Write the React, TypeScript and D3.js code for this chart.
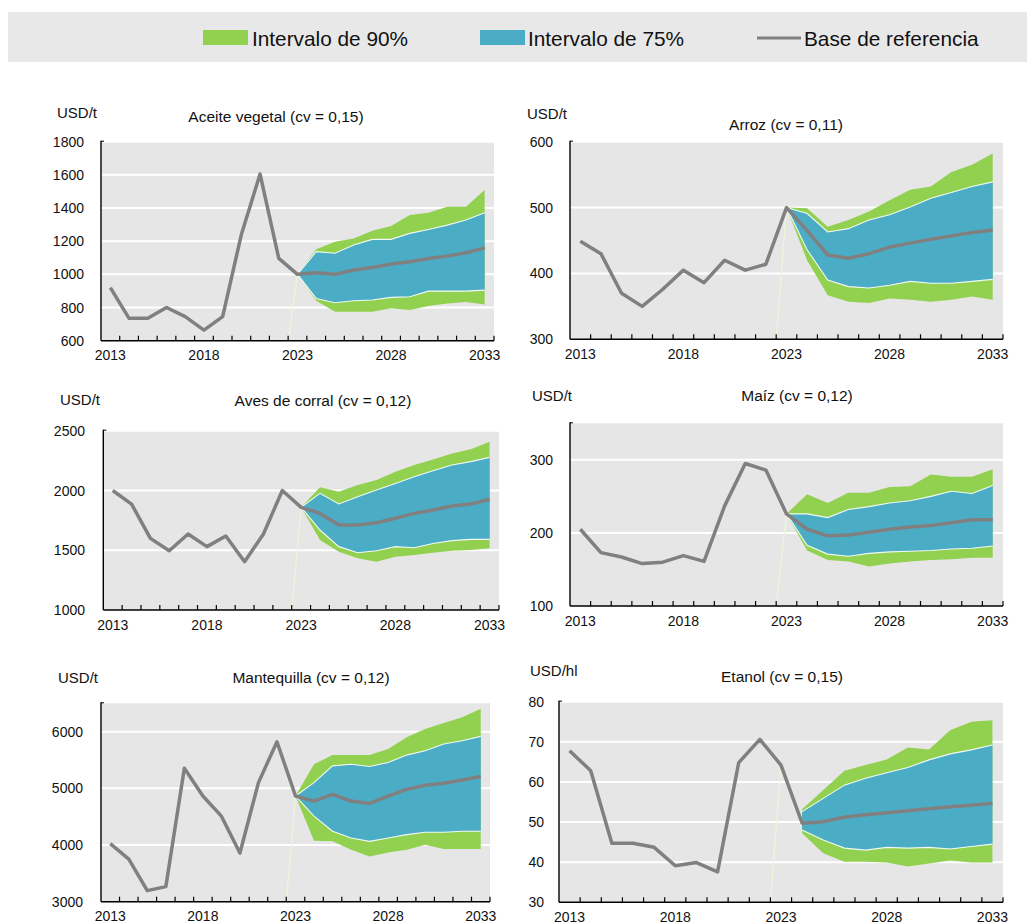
import React from 'react';
import * as d3 from 'd3';

// años del eje x (categorías)
const YEARS = [
  2013, 2014, 2015, 2016, 2017, 2018, 2019, 2020, 2021, 2022, 2023,
  2024, 2025, 2026, 2027, 2028, 2029, 2030, 2031, 2032, 2033,
];
const X_LABELS = [2013, 2018, 2023, 2028, 2033];

const LEGEND_LABELS = ['Intervalo de 90%', 'Intervalo de 75%', 'Base de referencia'];

// Aceite vegetal
const aceiteBase = [920, 735, 735, 800, 745, 664, 745, 1240, 1605, 1096, 1000, 1010, 1000, 1026, 1042, 1062, 1076, 1096, 1110, 1130, 1160];
const aceiteHi90 = [1000, 1151, 1197, 1217, 1263, 1291, 1358, 1372, 1408, 1408, 1508];
const aceiteHi75 = [1000, 1137, 1127, 1177, 1211, 1211, 1247, 1271, 1297, 1328, 1372];
const aceiteLo75 = [1000, 855, 829, 841, 845, 861, 865, 899, 899, 899, 905];
const aceiteLo90 = [1000, 841, 775, 775, 775, 795, 785, 809, 825, 833, 819];

// Arroz
const arrozBase = [449, 430, 370, 350, 376, 405, 386, 420, 405, 414, 500, 465, 428, 423, 430, 440, 446, 452, 457, 462, 466];
const arrozHi90 = [500, 499, 471, 481, 494, 511, 527, 532, 554, 565, 582];
const arrozHi75 = [500, 491, 463, 468, 481, 489, 501, 514, 523, 532, 539];
const arrozLo75 = [500, 436, 390, 380, 378, 382, 388, 385, 385, 388, 391];
const arrozLo90 = [500, 420, 367, 357, 355, 362, 360, 357, 360, 365, 360];

// Aves de corral
const avesBase = [2000, 1886, 1599, 1496, 1636, 1530, 1619, 1404, 1636, 2000, 1859, 1808, 1711, 1711, 1730, 1767, 1808, 1836, 1870, 1886, 1926];
const avesHi90 = [1859, 2026, 1990, 2045, 2087, 2157, 2213, 2260, 2310, 2344, 2408];
const avesHi75 = [1859, 1976, 1887, 1948, 2004, 2059, 2115, 2165, 2213, 2241, 2277];
const avesLo75 = [1859, 1669, 1530, 1479, 1496, 1530, 1521, 1557, 1580, 1591, 1591];
const avesLo90 = [1859, 1585, 1488, 1432, 1404, 1446, 1460, 1479, 1496, 1502, 1516];

// Maíz
const maizBase = [205, 173, 167, 158, 160, 169, 161, 237, 295, 286, 226, 205, 196, 197, 201, 205, 208, 210, 214, 218, 218];
const maizHi90 = [226, 253, 241, 255, 255, 263, 264, 280, 277, 277, 287];
const maizHi75 = [226, 226, 221, 232, 236, 241, 244, 250, 257, 254, 265];
const maizLo75 = [226, 183, 171, 168, 172, 174, 175, 176, 178, 179, 182];
const maizLo90 = [226, 176, 163, 161, 154, 158, 161, 163, 164, 166, 166];

// Mantequilla
const mantBase = [4024, 3751, 3195, 3266, 5355, 4864, 4509, 3858, 5101, 5822, 4864, 4775, 4893, 4775, 4734, 4864, 4982, 5053, 5089, 5148, 5207];
const mantHi90 = [4864, 5426, 5586, 5586, 5586, 5692, 5899, 6047, 6154, 6254, 6402];
const mantHi75 = [4864, 5101, 5396, 5426, 5385, 5456, 5586, 5663, 5781, 5840, 5917];
const mantLo75 = [4864, 4509, 4243, 4124, 4065, 4124, 4183, 4225, 4225, 4243, 4243];
const mantLo90 = [4864, 4077, 4065, 3917, 3799, 3870, 3917, 4006, 3929, 3929, 3929];

// Etanol (bandas desde 2024)
const etanolBase = [67.8, 62.8, 44.7, 44.7, 43.7, 39.1, 39.9, 37.6, 64.8, 70.6, 64.2, 49.7, 50.1, 51.2, 51.8, 52.3, 52.8, 53.3, 53.8, 54.2, 54.7];
const etanolHi90 = [53.2, 58.0, 62.8, 64.2, 65.6, 68.6, 68.1, 72.9, 75.0, 75.4];
const etanolHi75 = [52.6, 55.9, 59.2, 60.9, 62.3, 63.6, 65.5, 67.0, 68.0, 69.2];
const etanolLo75 = [48.0, 45.5, 43.5, 43.0, 43.7, 43.5, 43.7, 43.3, 43.9, 44.5];
const etanolLo90 = [47.2, 42.2, 40.1, 40.1, 39.9, 38.9, 39.7, 40.4, 39.9, 39.9];

const GREEN = '#92d050';
const BLUE = '#4bacc6';
const GREY = '#808080';
const BG = '#e6e6e6';
const FONT = '"Liberation Sans", Arial, sans-serif';
const TEXT = '#111';

interface Panel {
  title: string;
  unit: string;
  yDomain: [number, number];
  yTicks: number[];
  base: number[];
  hi90: number[];
  hi75: number[];
  lo75: number[];
  lo90: number[];
  bandStart: number;
  box: { left: number; right: number; top: number; bottom: number };
  titleX: number;
  titleY: number;
  unitX: number;
  unitY: number;
  labelRight: number;
}

const panels: Panel[] = [
  {
    title: 'Aceite vegetal (cv = 0,15)', unit: 'USD/t',
    yDomain: [600, 1800], yTicks: [600, 800, 1000, 1200, 1400, 1600, 1800],
    base: aceiteBase, hi90: aceiteHi90, hi75: aceiteHi75, lo75: aceiteLo75, lo90: aceiteLo90, bandStart: 2023,
    box: { left: 101, right: 494, top: 141.7, bottom: 340.7 },
    titleX: 276, titleY: 121.5, unitX: 57, unitY: 118, labelRight: 84,
  },
  {
    title: 'Arroz (cv = 0,11)', unit: 'USD/t',
    yDomain: [300, 600], yTicks: [300, 400, 500, 600],
    base: arrozBase, hi90: arrozHi90, hi75: arrozHi75, lo75: arrozLo75, lo90: arrozLo90, bandStart: 2023,
    box: { left: 570, right: 1003, top: 141.7, bottom: 339.3 },
    titleX: 786, titleY: 129.5, unitX: 527, unitY: 119, labelRight: 553,
  },
  {
    title: 'Aves de corral (cv = 0,12)', unit: 'USD/t',
    yDomain: [1000, 2500], yTicks: [1000, 1500, 2000, 2500],
    base: avesBase, hi90: avesHi90, hi75: avesHi75, lo75: avesLo75, lo90: avesLo90, bandStart: 2023,
    box: { left: 103.3, right: 499, top: 430.7, bottom: 610 },
    titleX: 323, titleY: 405.5, unitX: 60, unitY: 405, labelRight: 85,
  },
  {
    title: 'Maíz (cv = 0,12)', unit: 'USD/t',
    yDomain: [100, 350], yTicks: [100, 200, 300],
    base: maizBase, hi90: maizHi90, hi75: maizHi75, lo75: maizLo75, lo90: maizLo90, bandStart: 2023,
    box: { left: 570, right: 1003, top: 423.3, bottom: 606 },
    titleX: 797, titleY: 400.5, unitX: 532, unitY: 401, labelRight: 553,
  },
  {
    title: 'Mantequilla (cv = 0,12)', unit: 'USD/t',
    yDomain: [3000, 6500], yTicks: [3000, 4000, 5000, 6000],
    base: mantBase, hi90: mantHi90, hi75: mantHi75, lo75: mantLo75, lo90: mantLo90, bandStart: 2023,
    box: { left: 101, right: 490, top: 703.3, bottom: 901.7 },
    titleX: 311, titleY: 683, unitX: 58, unitY: 683, labelRight: 83,
  },
  {
    title: 'Etanol (cv = 0,15)', unit: 'USD/hl',
    yDomain: [30, 80], yTicks: [30, 40, 50, 60, 70, 80],
    base: etanolBase, hi90: etanolHi90, hi75: etanolHi75, lo75: etanolLo75, lo90: etanolLo90, bandStart: 2024,
    box: { left: 559, right: 1003, top: 701.7, bottom: 902.3 },
    titleX: 782, titleY: 681.5, unitX: 530, unitY: 676, labelRight: 544,
  },
];

const ChartPanel: React.FC<{ p: Panel }> = ({ p }) => {
  const { left, right, top, bottom } = p.box;
  const x = d3.scaleBand<number>().domain(YEARS).range([left, right]).padding(0);
  const bw = x.bandwidth();
  const cx = (yr: number) => (x(yr) as number) + bw / 2;
  const y = d3.scaleLinear().domain(p.yDomain).range([bottom, top]);

  const startIdx = YEARS.indexOf(p.bandStart);
  const bandRows = p.hi90.map((_, i) => ({
    yr: YEARS[startIdx + i],
    hi90: p.hi90[i], hi75: p.hi75[i], lo75: p.lo75[i], lo90: p.lo90[i],
  }));

  const area90 = d3.area<typeof bandRows[0]>()
    .x((d) => cx(d.yr)).y0((d) => y(d.lo90)).y1((d) => y(d.hi90));
  const area75 = d3.area<typeof bandRows[0]>()
    .x((d) => cx(d.yr)).y0((d) => y(d.lo75)).y1((d) => y(d.hi75));
  const edgeHi = d3.line<typeof bandRows[0]>().x((d) => cx(d.yr)).y((d) => y(d.hi75));
  const edgeLo = d3.line<typeof bandRows[0]>().x((d) => cx(d.yr)).y((d) => y(d.lo75));
  const baseLine = d3.line<number>().x((_, i) => cx(YEARS[i])).y((d) => y(d));

  const i2023 = YEARS.indexOf(2023);

  return (
    <g>
      <rect x={left} y={top} width={right - left} height={bottom - top} fill={BG} />
      {p.yTicks.filter((t) => t !== p.yDomain[0]).map((t) => (
        <line key={t} x1={left} x2={right} y1={y(t)} y2={y(t)} stroke="#fff" strokeWidth={2} />
      ))}
      {/* línea tenue hacia 2023 */}
      <line
        x1={x(2023) as number} y1={bottom}
        x2={cx(2023)} y2={y(p.base[i2023])}
        stroke="#eef6d8" strokeWidth={1.2}
      />
      <path d={area90(bandRows) || ''} fill={GREEN} />
      <path d={area75(bandRows) || ''} fill={BLUE} />
      <path d={edgeHi(bandRows) || ''} fill="none" stroke="#fff" strokeWidth={1.1} strokeOpacity={0.9} />
      <path d={edgeLo(bandRows) || ''} fill="none" stroke="#fff" strokeWidth={1.1} strokeOpacity={0.9} />
      <path d={baseLine(p.base) || ''} fill="none" stroke={GREY} strokeWidth={3.5} strokeLinejoin="round" />

      {/* ejes */}
      <line x1={left} x2={left} y1={top - 1} y2={bottom} stroke="#000" strokeWidth={1.4} />
      <line x1={left} x2={right} y1={bottom} y2={bottom} stroke="#000" strokeWidth={1.4} />
      <line x1={left} x2={left + 3} y1={top - 0.5} y2={top - 0.5} stroke="#000" strokeWidth={1} />
      {YEARS.map((yr) => (
        <line key={yr} x1={(x(yr) as number) + bw} x2={(x(yr) as number) + bw}
          y1={bottom} y2={bottom - 5} stroke="#000" strokeWidth={1.2} />
      ))}
      {X_LABELS.map((yr) => (
        <text key={yr} x={cx(yr)} y={bottom + 19.5} textAnchor="middle"
          fontSize={14} fontFamily={FONT} fill={TEXT}>{yr}</text>
      ))}
      {p.yTicks.map((t) => (
        <text key={t} x={p.labelRight} y={y(t)} dy="0.36em" textAnchor="end"
          fontSize={14} fontFamily={FONT} fill={TEXT}>{t}</text>
      ))}
      <text x={p.titleX} y={p.titleY} textAnchor="middle" fontSize={15.5} fontFamily={FONT} fill={TEXT}>
        {p.title}
      </text>
      <text x={p.unitX} y={p.unitY} fontSize={15} fontFamily={FONT} fill={TEXT}>{p.unit}</text>
    </g>
  );
};

const App: React.FC = () => {
  return (
    <svg width={1027} height={924} style={{ position: 'absolute', left: 0, top: 0, background: '#fff' }}>
      {/* leyenda */}
      <rect x={8} y={12} width={1019} height={50} fill="#e8e8e8" />
      <rect x={203} y={30} width={45} height={15} fill={GREEN} />
      <text x={252} y={45.5} fontSize={20.8} fontFamily={FONT} fill={TEXT}>{LEGEND_LABELS[0]}</text>
      <rect x={480} y={30} width={45} height={15} fill={BLUE} />
      <text x={528} y={45.5} fontSize={20.8} fontFamily={FONT} fill={TEXT}>{LEGEND_LABELS[1]}</text>
      <line x1={757} x2={801} y1={38} y2={38} stroke={GREY} strokeWidth={3} />
      <text x={804} y={45.5} fontSize={20.8} fontFamily={FONT} fill={TEXT}>{LEGEND_LABELS[2]}</text>

      {panels.map((p) => (
        <ChartPanel key={p.title} p={p} />
      ))}
    </svg>
  );
};

export default App;
